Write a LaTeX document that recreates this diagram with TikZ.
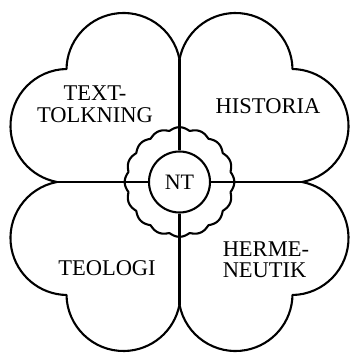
\documentclass[tikz,border=0pt]{standalone}
\usepackage{fontspec}
\setmainfont{Liberation Serif}
\begin{document}
\begin{tikzpicture}[x=1pt,y=1pt,line width=2.1pt,
  lobe/.style={draw,line join=round},
  lbl/.style={font=\fontsize{22.5}{21.5}\selectfont,inner sep=0pt}]
\useasboundingbox (-179.5,-171) rectangle (170.5,182);
% four heart-shaped lobes
\foreach \k in {0,90,180,270}{
  \draw[lobe,rotate=\k] (0,122.6) arc[start angle=10.7,end angle=179,radius=57]
        arc[start angle=91,end angle=259.3,radius=57];
}
% cusps on the axes
\coordinate (ctop) at (0,122.6);
\coordinate (cbot) at (0,-122.6);
\coordinate (cleft) at (-122.6,0);
\coordinate (cright) at (122.6,0);
% scalloped ring
\draw[line join=round] plot[domain=0:360,samples=721] (\x:{52+2.8*abs(cos(8*\x))}) -- cycle;
% centre circle
\node[draw,circle,minimum size=61pt,inner sep=0pt,font=\fontsize{22}{22}\selectfont] (nt) at (0,0) {NT};
% cross
\draw (ctop) -- (nt);
\draw (cbot) -- (nt);
\draw (cleft) -- (nt);
\draw (cright) -- (nt);
% labels
\node[lbl,align=center,anchor=north] (tt) at (-84.5,97) {TEXT-\\TOLKNING};
\node[lbl,anchor=base] (hi) at (88.5,68) {HISTORIA};
\node[lbl,align=left,anchor=north west] (hn) at (42.2,-58.7) {HERME-\\NEUTIK};
\node[lbl,anchor=base] (te) at (-72.5,-93.5) {TEOLOGI};
\end{tikzpicture}
\end{document}
